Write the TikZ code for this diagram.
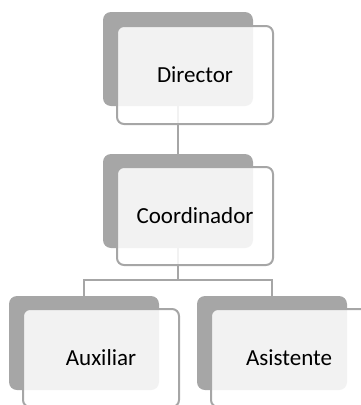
\documentclass[tikz,border=0pt]{standalone}
\usepackage{fontspec}
\setmainfont{Carlito}
\definecolor{backgray}{HTML}{A6A6A6}
\definecolor{linegray}{HTML}{A6A6A6}
\begin{document}
\begin{tikzpicture}[x=1pt,y=-1pt,
  back/.style={fill=backgray, rounded corners=8pt, minimum width=150pt, minimum height=94pt, inner sep=0pt, draw=none},
  front/.style={fill=white, fill opacity=0.86, text opacity=1, draw=linegray, line width=2pt, rounded corners=7pt, minimum width=156pt, minimum height=98pt, inner sep=0pt, font=\fontsize{23}{28}\selectfont},
  conn/.style={draw=linegray, line width=2pt}]
\useasboundingbox (0,0) rectangle (360,405);
% back boxes
\node[back] (db) at (178,59) {};
\node[back] (cb) at (178,201) {};
\node[back] (ab) at (84,343) {};
\node[back] (sb) at (272,343) {};
% connectors
\coordinate (bus) at (178,280);
\draw[conn] (db.south) -- (cb.north);
\draw[conn] (cb.south) -- (bus);
\draw[conn] (ab.north) |- (bus) -| (sb.north);
% front boxes
\node[front] (d) at (195,75) {Director};
\node[front] (c) at (195,216) {Coordinador};
\node[front] (a) at (101,358) {Auxiliar};
\node[front] (s) at (289,358) {Asistente};
\end{tikzpicture}
\end{document}
